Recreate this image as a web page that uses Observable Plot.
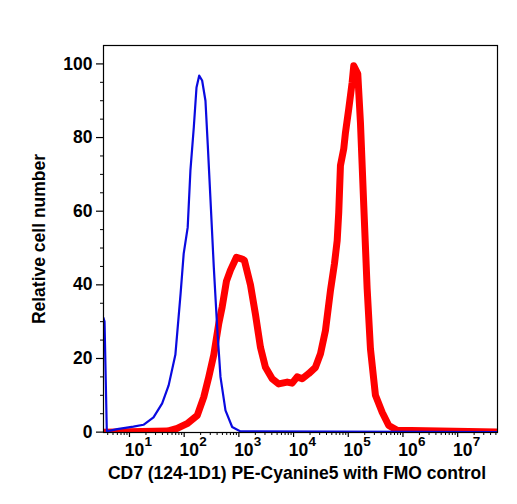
<!DOCTYPE html>
<html><head><meta charset="utf-8">
<script src="https://cdn.jsdelivr.net/npm/d3@7"></script>
<script src="https://cdn.jsdelivr.net/npm/@observablehq/plot@0.6"></script>
<style>body{margin:0;background:#fff}</style>
</head><body><div id="chart"></div>
<script>
// FMO control (blue)
const blueX = [3.35,3.5,3.85,4.5,5.96,11.8,18,27.5,39.6,52,69,86,98,116,130,150,168,188,213,245,270,303,348,401,461,569,754,1070,5.35e7];
const blueY = [31,30,0.3,0.4,0.8,1.5,2,4,7.8,12.7,21,37.6,48.5,55.6,71,82.8,93.6,96.8,95.5,90,78,63,44.8,28.5,15,5.9,1.4,0.2,0];
// CD7 stained (red)
const redX = [3.35,49.6,74.5,113,173,228,282,348,429,495,593,702,903,1148,1265,1630,2010,2483,3064,4063,5360,7640,9420,11640,14360,18970,25140,31040,38290,47300,55980,62700,67000,71950,82770,88940,102100,117800,126000,149200,167100,192000,221400,254500,314100,416600,550100,783400,5.35e7];
const redY = [0,0.3,1,2.3,4.5,9.5,15,21,29.5,34,41,44,47.5,47,46.6,40,32,23,17.6,14.5,13.1,13.6,13.3,15,14.5,15.9,17.6,21.3,27.6,38.5,45.8,52,59.7,72.4,77,81.4,87.8,95,99.5,97.3,84,61.5,39,22.6,10,5.4,1.8,0.5,0];

const xDecades = [1e1,1e2,1e3,1e4,1e5,1e6,1e7];
const xExponents = ["1","2","3","4","5","6","7"];
const xMinor = [4,5,6,7,8,9,20,30,40,50,60,70,80,90,200,300,400,500,600,700,800,900,2000,3000,4000,5000,6000,7000,8000,9000,2e4,3e4,4e4,5e4,6e4,7e4,8e4,9e4,2e5,3e5,4e5,5e5,6e5,7e5,8e5,9e5,2e6,3e6,4e6,5e6,6e6,7e6,8e6,9e6,2e7,3e7,4e7,5e7];
const yTicks = [0,20,40,60,80,100];
const yMinor = [5,10,15,25,30,35,45,50,55,65,70,75,85,90,95];
const xTitle = "CD7 (124-1D1) PE-Cyanine5 with FMO control";
const yTitle = "Relative cell number";

const font = "'Liberation Sans', Arial, Helvetica, sans-serif";

const chart = Plot.plot({
  width: 517, height: 504,
  marginLeft: 103, marginRight: 20, marginTop: 45, marginBottom: 72,
  style: {fontFamily: font, fontWeight: "bold", color: "#000", background: "#fff"},
  x: {type: "log", domain: [3.35, 5.35e7]},
  y: {domain: [-0.1, 105]},
  marks: [
    Plot.line(redX, {x: redX, y: redY, stroke: "#ff0000", strokeWidth: 7, strokeLinejoin: "round", clip: true}),
    Plot.line(blueX, {x: blueX, y: blueY, stroke: "#0a0ae0", strokeWidth: 2.2, strokeLinejoin: "round", clip: true}),
    Plot.frame({stroke: "#000", strokeWidth: 1.2}),
    Plot.axisY({ticks: yTicks, tickSize: 7, tickPadding: 4, fontSize: 17.5, fontWeight: "bold", label: null, strokeWidth: 1.2}),
    Plot.axisY({ticks: yMinor, tickSize: 3, tickFormat: () => "", label: null}),
    Plot.axisX({ticks: xDecades, tickSize: 5, tickFormat: () => "", label: null, strokeWidth: 1.2}),
    Plot.axisX({ticks: xMinor, tickSize: 3, tickFormat: () => "", label: null}),
    Plot.text(xDecades, {x: xDecades, frameAnchor: "bottom", text: () => "10", textAnchor: "middle", dx: 5, dy: 23, fontSize: 17.5, fontWeight: "bold", fill: "#000"}),
    Plot.text(xDecades, {x: xDecades, frameAnchor: "bottom", text: xExponents, textAnchor: "start", dx: 15, dy: 13, fontSize: 13.5, fontWeight: "bold", fill: "#000"}),
    Plot.text([xTitle], {frameAnchor: "bottom", text: d => d, textAnchor: "middle", dx: -3.5, dy: 46, fontSize: 17.5, fontWeight: "bold", fill: "#000"}),
    Plot.text([yTitle], {frameAnchor: "left", text: d => d, textAnchor: "middle", rotate: -90, dx: -64.5, dy: 0, fontSize: 17.5, fontWeight: "bold", fill: "#000"})
  ]
});
document.getElementById("chart").appendChild(chart);
</script>
</body></html>
